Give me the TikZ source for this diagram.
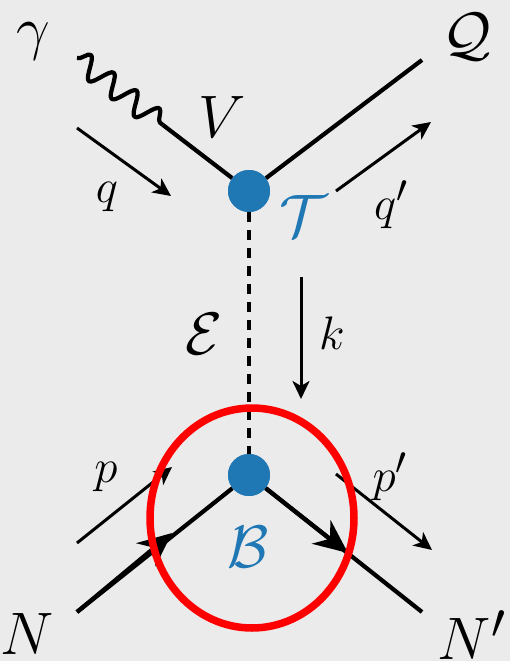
\documentclass[tikz,border=0pt]{standalone}
\usetikzlibrary{arrows.meta,decorations.pathmorphing,shapes.geometric,calc}
\definecolor{dotblue}{HTML}{1F77B4}
\definecolor{bgray}{HTML}{EBEBEB}
\definecolor{ringred}{HTML}{FF0000}
\begin{document}
\begin{tikzpicture}[x=1pt,y=-1pt,
  line/.style={line width=4.2pt, line join=round},
  mom/.style={line width=3pt,-{Stealth[length=18pt,width=17pt,inset=5pt]}},
  vtx/.style={circle,fill=dotblue,minimum size=42pt,inner sep=0pt},
  big/.style={font=\Huge, scale=2.41, inner sep=0pt},
  small/.style={font=\Huge, scale=1.89, inner sep=0pt},
  fermionhead/.style={line width=4.2pt, -{Stealth[length=34pt,width=30pt,inset=11pt]}},
  ring/.style={draw=ringred, line width=7.5pt},
]
% background
\fill[bgray] (0,0) rectangle (510,661);
\useasboundingbox (0,0) rectangle (510,661);

% vertices and end points
\node[vtx] (T) at (249,191) {};
\node[vtx] (B) at (249,475) {};
\coordinate (gam) at (77,58);
\coordinate (wv) at (163,125);
\coordinate (Qend) at (422,60);
\coordinate (Nstart) at (77,612);
\coordinate (Nend) at (422,612);
\coordinate (Nmid) at (172,533);
\coordinate (Npmid) at (348,553);

% momentum arrow end points
\coordinate (q1) at (77,128);  \coordinate (q2) at (171,196);
\coordinate (qp1) at (336,191); \coordinate (qp2) at (431,122);
\coordinate (k1) at (301,277); \coordinate (k2) at (301,399);
\coordinate (p1) at (77,543);  \coordinate (p2) at (172,467);
\coordinate (pp1) at (336,474); \coordinate (pp2) at (432,550);

% propagators
\draw[line, decorate, decoration={snake, amplitude=11pt, segment length=29pt}] (gam) -- (wv);
\draw[line] (wv) -- (T);
\draw[line] (T) -- (Qend);
\draw[line width=4.2pt, dash pattern=on 10pt off 8pt] (T) -- (B);
\draw[line] (Nstart) -- (B);
\draw[line] (B) -- (Nend);
\draw[fermionhead] (Nstart) -- (Nmid);
\draw[fermionhead] (B) -- (Npmid);

% vertices on top
\node[vtx] at (T) {};
\node[vtx] at (B) {};

% momentum arrows
\draw[mom] (q1) -- (q2);
\draw[mom] (qp1) -- (qp2);
\draw[mom] (k1) -- (k2);
\draw[mom] (p1) -- (p2);
\draw[mom] (pp1) -- (pp2);

% labels
\node[big] (lgam) at (33,41) {$\gamma$};
\node[big] (lV) at (222,117) {$V$};
\node[big] (lQ) at (467,37) {$\mathcal{Q}$};
\node[small] (lq) at (107,197) {$q$};
\node[small] (lqp) at (391,205) {$q'$};
\node[big, text=dotblue] (lT) at (303,216) {$\mathcal{T}$};
\node[big] (lE) at (204,334) {$\mathcal{E}$};
\node[small] (lk) at (332,333) {$k$};
\node[small] (lp) at (106,477) {$p$};
\node[small] (lpp) at (390,477) {$p'$};
\node[big, text=dotblue] (lB) at (248,547) {$\mathcal{B}$};
\node[big] (lN) at (27,634) {$N$};
\node[big] (lNp) at (472,635) {$N'$};

% red ring
\node[ring, ellipse, minimum width=204pt, minimum height=220pt, inner sep=0pt] (ringnode) at (252,518) {};
\end{tikzpicture}
\end{document}
